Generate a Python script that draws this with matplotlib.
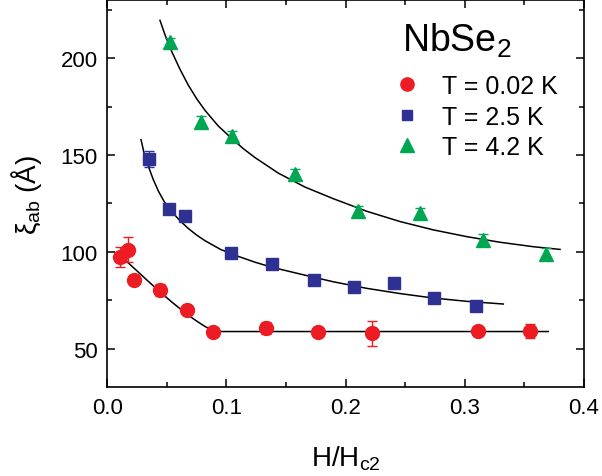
import matplotlib
matplotlib.use("Agg")
import matplotlib.pyplot as plt
from matplotlib.ticker import MultipleLocator
from matplotlib.lines import Line2D

plt.rcParams['font.family'] = ['Liberation Sans', 'DejaVu Sans']
plt.rcParams['mathtext.fontset'] = 'custom'
plt.rcParams['mathtext.rm'] = 'Liberation Sans'
plt.rcParams['mathtext.it'] = 'Liberation Sans:italic'

# ---- data ----
red_x = [0.011, 0.017, 0.022, 0.044, 0.067, 0.089, 0.133, 0.177, 0.222, 0.311, 0.355]
red_y = [97.3, 101.1, 85.5, 80.4, 70.1, 58.4, 60.7, 58.4, 57.8, 59.2, 59.0]
red_err = [5.0, 6.5, 1.0, 3.0, 1.0, 1.0, 3.0, 1.0, 6.3, 1.0, 3.5]

blue_x = [0.0352, 0.0518, 0.0652, 0.1038, 0.1385, 0.1732, 0.2073, 0.2406, 0.2739, 0.3096]
blue_y = [148.0, 122.3, 118.5, 99.2, 93.7, 85.2, 81.6, 83.8, 76.3, 72.2]
blue_err = [4.0, 1.0, 1.0, 1.0, 1.0, 1.0, 1.0, 1.0, 1.0, 1.0]

green_x = [0.0526, 0.0786, 0.105, 0.1575, 0.2106, 0.2624, 0.3155, 0.368]
green_y = [208.4, 167.0, 159.6, 139.9, 120.8, 119.8, 106.1, 98.9]
green_err = [2.0, 3.0, 3.0, 3.0, 3.0, 3.0, 3.0, 3.0]

# fit curves
fit_red_x = [0.0107, 0.018, 0.026, 0.033, 0.040, 0.047, 0.054, 0.061, 0.068, 0.075,
             0.082, 0.0865, 0.0904, 0.370]
fit_red_y = [98.4, 94.0, 89.5, 85.5, 81.6, 77.8, 74.1, 70.6, 67.2, 64.2,
             61.4, 60.0, 58.8, 58.8]

fit_blue_x = [0.0283, 0.031, 0.0344, 0.0385, 0.0428, 0.048, 0.054, 0.061, 0.068, 0.075,
              0.082, 0.095, 0.1099, 0.124, 0.138, 0.1659, 0.1896, 0.2177, 0.2456,
              0.2735, 0.3016, 0.3323]
fit_blue_y = [157.9, 150.5, 144.2, 137.4, 131.4, 125.6, 120.8, 116.0, 112.0, 108.6,
              105.7, 101.2, 97.6, 94.6, 92.0, 87.9, 84.5, 81.1, 78.4,
              76.1, 74.4, 73.0]

fit_green_x = [0.0442, 0.049, 0.054, 0.061, 0.068, 0.075, 0.082, 0.093, 0.1044, 0.114,
               0.124, 0.1435, 0.1659, 0.1896, 0.2177, 0.2456, 0.2735, 0.3016, 0.3295,
               0.3575, 0.3799]
fit_green_y = [219.5, 211.0, 203.5, 194.2, 186.0, 179.0, 173.0, 165.0, 158.5, 153.3,
               148.6, 140.6, 133.4, 127.4, 120.9, 115.6, 111.3, 107.8, 104.9,
               102.6, 101.2]

labels = ['T = 0.02 K', 'T = 2.5 K', 'T = 4.2 K']
title = 'NbSe$_2$'

RED = '#ED1C24'
BLUE = '#2E3192'
GREEN = '#00A651'

fig = plt.figure(figsize=(6.02, 4.77), dpi=100)
ax = fig.add_axes([107.3 / 602, 1 - 388.3 / 477, (584 - 107.3) / 602, (388.3 - 1.0) / 477])

for fx, fy in [(fit_red_x, fit_red_y), (fit_blue_x, fit_blue_y), (fit_green_x, fit_green_y)]:
    ax.plot(fx, fy, color='black', lw=1.1, zorder=3, solid_joinstyle='round')

ax.errorbar(red_x, red_y, yerr=red_err, fmt='o', color=RED, ms=10, mec=RED,
            elinewidth=1.0, capsize=3.5, capthick=1.0, zorder=4)
ax.errorbar(blue_x, blue_y, yerr=blue_err, fmt='s', color=BLUE, ms=8.3, mec=BLUE,
            elinewidth=1.0, capsize=3.5, capthick=1.0, zorder=4)
ax.errorbar(green_x, green_y, yerr=green_err, fmt='^', color=GREEN, ms=10, mec=GREEN,
            elinewidth=1.0, capsize=3.5, capthick=1.0, zorder=4)

ax.set_xlim(0.0, 0.4)
ax.set_ylim(30, 230)
ax.xaxis.set_minor_locator(MultipleLocator(0.05))
ax.yaxis.set_minor_locator(MultipleLocator(25))
ax.set_xticks([0.0, 0.1, 0.2, 0.3, 0.4])
ax.set_xticklabels(['0.0', '0.1', '0.2', '0.3', '0.4'])
ax.set_yticks([50, 100, 150, 200])

ax.tick_params(which='both', direction='in', top=True, right=True, width=1.1,
               labelsize=16, pad=7)
ax.tick_params(which='major', length=6)
ax.tick_params(which='minor', length=3.5)
for s in ax.spines.values():
    s.set_linewidth(1.2)

ax.set_xlabel(r'H/H$_{\rm c2}$', fontsize=20, labelpad=18)
ax.set_ylabel(r'ξ$_{\rm ab}$ (Å)', fontsize=20, labelpad=12)

ax.text(0.6176, 0.869, title, transform=ax.transAxes, fontsize=27,
        ha='left', va='baseline')

handles = [Line2D([], [], ls='none', marker='o', color=RED, ms=9.5),
           Line2D([], [], ls='none', marker='s', color=BLUE, ms=7),
           Line2D([], [], ls='none', marker='^', color=GREEN, ms=10)]
leg = ax.legend(handles, labels, loc='upper left',
                bbox_to_anchor=(0.6021, 0.8085), frameon=False,
                fontsize=18, handlelength=1.0, handletextpad=0.9,
                labelspacing=0.26, borderaxespad=0, borderpad=0)

fig.savefig('out.png', dpi=100)
